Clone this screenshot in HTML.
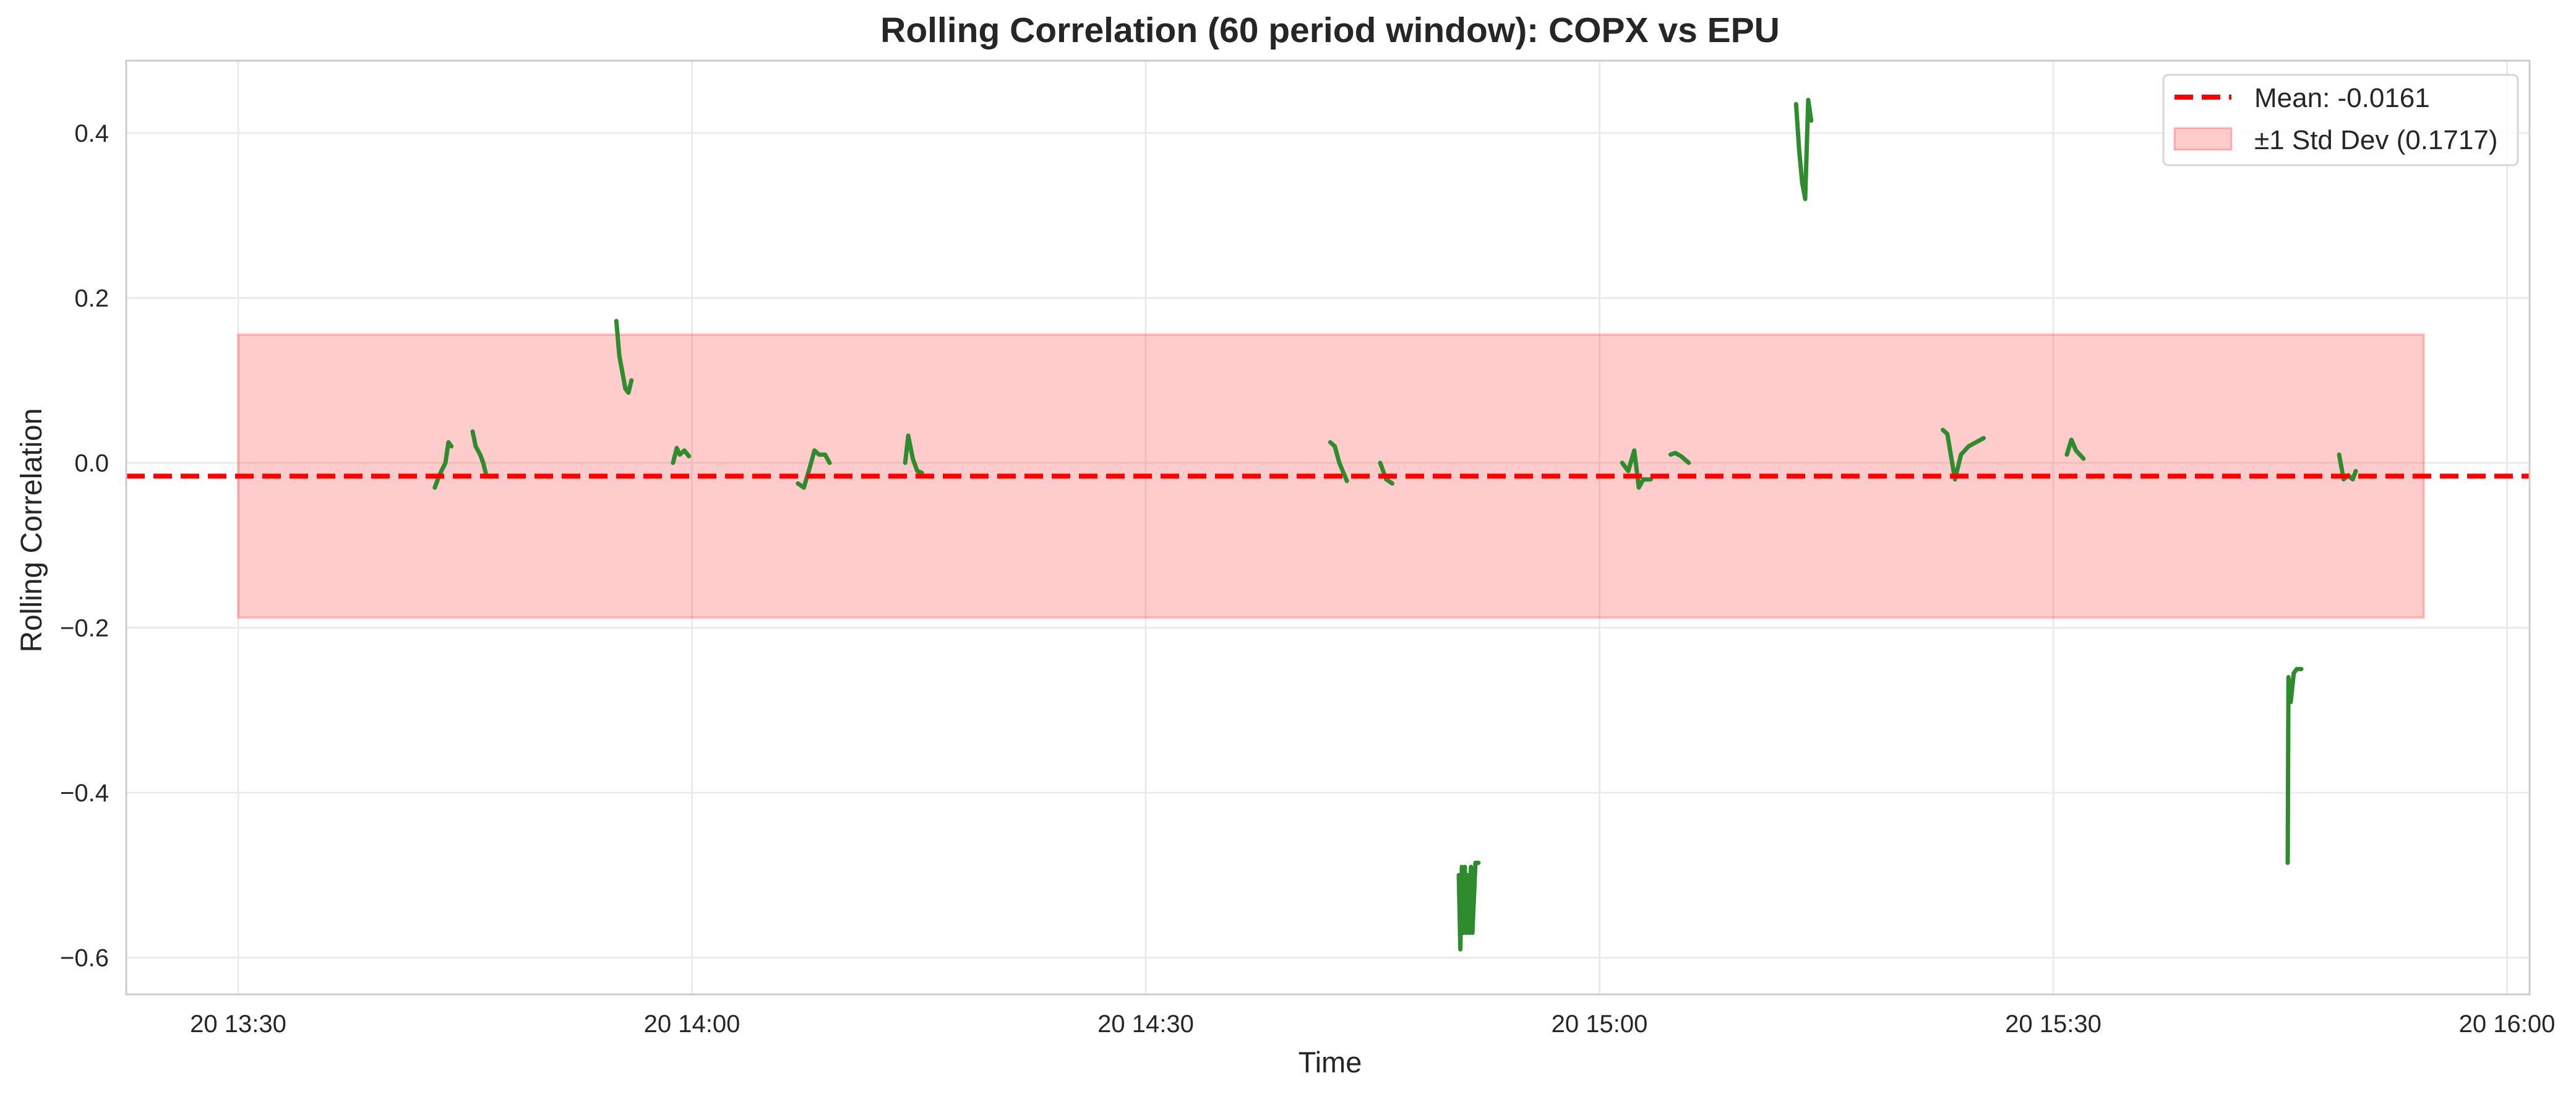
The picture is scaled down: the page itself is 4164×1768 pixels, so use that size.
<!DOCTYPE html>
<html><head><meta charset="utf-8"><style>
html,body{margin:0;padding:0;background:#fff;}
svg{display:block;font-family:"Liberation Sans",Arial,sans-serif;}
</style></head><body>
<svg id="chart" width="4164" height="1768" viewBox="0 0 4164 1768">
<rect x="0" y="0" width="4164" height="1768" fill="#fff"/>
<g id="grid"></g>
<g id="band"></g>
<g id="series"></g>
<g id="mean"></g>
<rect x="204" y="98" width="3885" height="1509" fill="none" stroke="#cccccc" stroke-width="3"/>
<g id="ticks"></g>
<text x="2150" y="68" text-anchor="middle" font-size="57" font-weight="bold" fill="#262626">Rolling Correlation (60 period window): COPX vs EPU</text>
<text x="2150" y="1733" text-anchor="middle" font-size="47" fill="#262626">Time</text>
<text transform="translate(67,857) rotate(-90)" text-anchor="middle" font-size="48" fill="#262626">Rolling Correlation</text>
<g>
<rect x="3497" y="121" width="573" height="146" rx="8" fill="#fff" fill-opacity="0.8" stroke="#d6d6d6" stroke-width="3"/>
<line x1="3515" y1="157" x2="3607" y2="157" stroke="#ff0000" stroke-width="8" stroke-dasharray="30,14"/>
<text x="3644" y="173" font-size="44" fill="#262626">Mean: -0.0161</text>
<rect x="3515" y="207" width="92" height="35" fill="#ff0000" fill-opacity="0.2" stroke="#ff0000" stroke-opacity="0.25" stroke-width="3"/>
<text x="3644" y="241" font-size="44" fill="#262626">±1 Std Dev (0.1717)</text>
</g>
</svg>
<script>
// minutes after 13:30; null breaks segments
const timesMin = [13.0,13.3,13.7,13.9,14.1,null,15.5,15.7,16.0,16.2,16.4,null,25.0,25.2,25.4,25.6,25.8,26.0,null,28.75,29.0,29.2,29.5,29.8,null,37.0,37.4,37.8,38.1,38.4,38.8,39.1,null,44.1,44.3,44.6,44.9,45.2,null,72.2,72.5,72.8,73.3,null,75.5,75.9,76.3,null,80.7,80.8,80.9,81.0,81.1,81.2,81.3,81.4,81.5,81.6,81.8,82.0,null,91.5,91.9,92.3,92.6,92.9,93.4,null,94.7,95.0,95.4,95.9,null,103.0,103.2,103.4,103.6,103.8,104.0,null,112.7,113.0,113.5,113.9,114.4,114.9,115.4,null,120.9,121.2,121.5,122.0,null,135.5,135.55,135.7,135.9,136.1,136.4,null,138.9,139.2,139.5,139.8,140.0];
const corrValues = [-0.03,-0.015,0.0,0.025,0.02,null,0.038,0.02,0.01,0.0,-0.015,null,0.172,0.13,0.11,0.09,0.085,0.1,null,0.0,0.018,0.01,0.015,0.008,null,-0.025,-0.03,-0.005,0.015,0.01,0.01,0.0,null,0.0,0.033,0.005,-0.01,-0.012,null,0.025,0.02,0.0,-0.022,null,0.0,-0.02,-0.025,null,-0.5,-0.59,-0.49,-0.57,-0.49,-0.57,-0.5,-0.57,-0.49,-0.57,-0.485,-0.485,null,0.0,-0.01,0.015,-0.03,-0.02,-0.02,null,0.01,0.012,0.008,0.0,null,0.435,0.38,0.34,0.32,0.44,0.415,null,0.04,0.035,-0.02,0.01,0.02,0.025,0.03,null,0.01,0.028,0.015,0.005,null,-0.485,-0.26,-0.29,-0.255,-0.25,-0.25,null,0.01,-0.02,-0.015,-0.02,-0.01];
const yTickValues = [-0.6,-0.4,-0.2,0.0,0.2,0.4];
const yTickLabels = ["\u22120.6","\u22120.4","\u22120.2","0.0","0.2","0.4"];
const xTickMinutes = [0,30,60,90,120,150];
const xTickLabels = ["20 13:30","20 14:00","20 14:30","20 15:00","20 15:30","20 16:00"];
const meanValue = -0.0161;
const stdValue = 0.1717;
const bandStartMin = 0, bandEndMin = 144.5;

const NS = "http://www.w3.org/2000/svg";
const xs = m => 385 + m * 24.45;
const ys = v => 748 - v * 1332.7;
function mk(tag, attrs, parent){const e=document.createElementNS(NS,tag);for(const k in attrs)e.setAttribute(k,attrs[k]);parent.appendChild(e);return e;}
const grid=document.getElementById('grid'), ticks=document.getElementById('ticks');
yTickValues.forEach((v,i)=>{
  const l=mk('line',{x1:204,x2:4089,y1:ys(v),y2:ys(v),stroke:'#ebebeb','stroke-width':3},grid);
  
  
  const t=mk('text',{x:176,y:ys(v)+14,'text-anchor':'end','font-size':40,fill:'#262626'},ticks);
  t.textContent=yTickLabels[i];
  
  
});
xTickMinutes.forEach((m,i)=>{
  const l=mk('line',{x1:xs(m),x2:xs(m),y1:98,y2:1607,stroke:'#ebebeb','stroke-width':3},grid);
  
  
  const t=mk('text',{x:xs(m),y:1668,'text-anchor':'middle','font-size':40,fill:'#262626'},ticks);
  t.textContent=xTickLabels[i];
  
  
});
const bt=ys(meanValue+stdValue), bb=ys(meanValue-stdValue);
const band=mk('rect',{x:xs(bandStartMin),y:bt,width:xs(bandEndMin)-xs(bandStartMin),height:bb-bt,fill:'#ff0000','fill-opacity':0.2,stroke:'#ff0000','stroke-opacity':0.2,'stroke-width':4},document.getElementById('band'));


const ml=mk('line',{x1:204,x2:4089,y1:ys(meanValue),y2:ys(meanValue),stroke:'#ff0000','stroke-width':8,'stroke-dasharray':'30,14'},document.getElementById('mean'));


const ser=document.getElementById('series');
let pts=[];
function flush(){
  if(pts.length){
    const p=mk('polyline',{points:pts.join(' '),fill:'none',stroke:'#2e8b2e','stroke-width':7,'stroke-linejoin':'round','stroke-linecap':'round'},ser);
    
    
  }
  pts=[];
}
timesMin.forEach((m,i)=>{
  if(m===null||corrValues[i]===null){flush();return;}
  pts.push(xs(m).toFixed(1)+','+ys(corrValues[i]).toFixed(1));
});
flush();
</script>
</body></html>
